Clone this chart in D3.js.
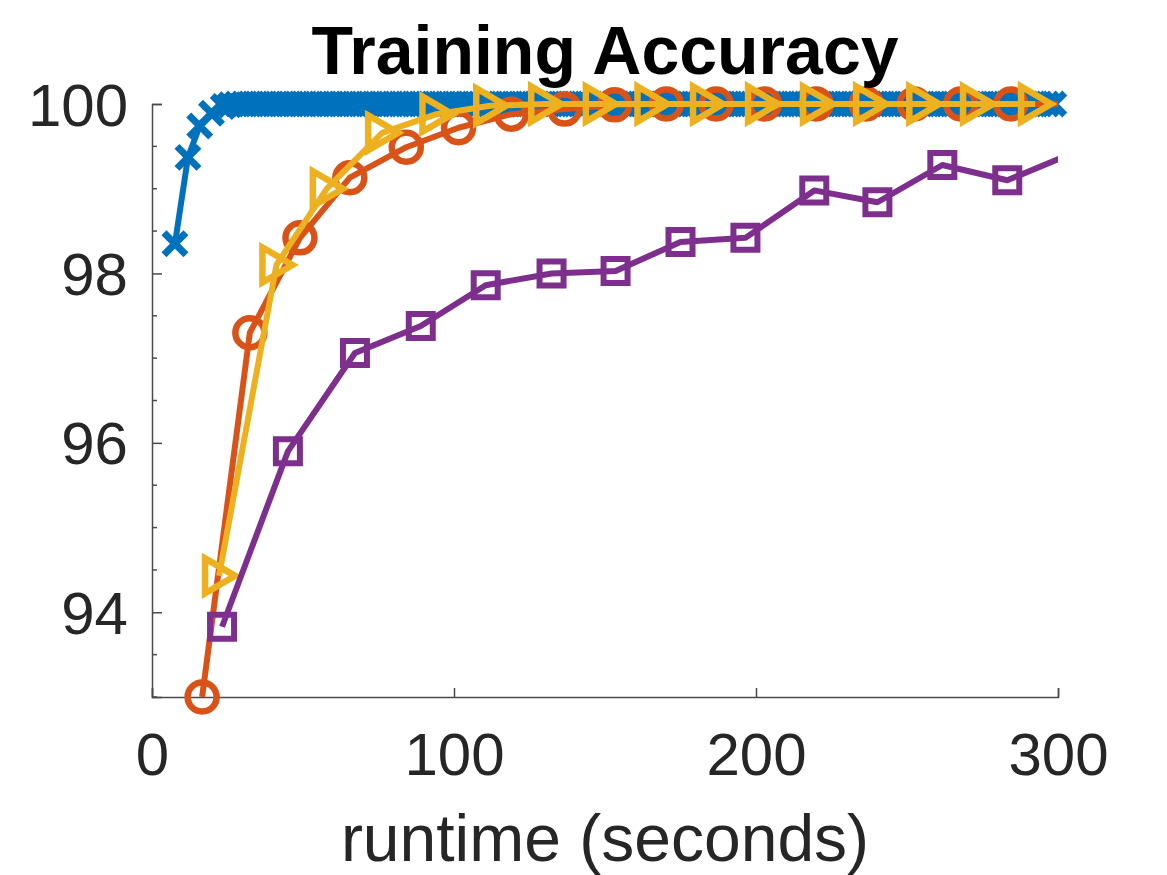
<!DOCTYPE html>
<html>
<head>
<meta charset="utf-8">
<script src="https://cdn.jsdelivr.net/npm/d3@7"></script>
<style>
  body { margin: 0; background: #fff; }
  svg { display: block; }
  text { font-family: "Liberation Sans", Arial, Helvetica, sans-serif; }
</style>
</head>
<body>
<div id="chart"></div>
<script>
// runtime (s) and accuracy values
var blueX = [7.6, 11.9, 15.8, 19.7, 23.6,
  25.8, 28.0, 30.2, 32.4, 34.6, 36.8, 39.0, 41.2, 43.4, 45.6, 47.8, 50.0, 52.2, 54.4, 56.6, 58.8,
  61.0, 63.2, 65.4, 67.6, 69.8, 72.0, 74.2, 76.4, 78.6, 80.8, 83.0, 85.2, 87.4, 89.6, 91.8, 94.0,
  96.2, 98.4, 100.6, 102.8, 105.0, 107.2, 109.4, 111.6, 113.8, 116.0, 118.2, 120.4, 122.6, 124.8,
  127.0, 129.2, 131.4, 133.6, 135.8, 138.0, 140.2, 142.4, 144.6, 146.8, 149.0, 151.2, 153.4, 155.6,
  157.8, 160.0, 162.2, 164.4, 166.6, 168.8, 171.0, 173.2, 175.4, 177.6, 179.8, 182.0, 184.2, 186.4,
  188.6, 190.8, 193.0, 195.2, 197.4, 199.6, 201.8, 204.0, 206.2, 208.4, 210.6, 212.8, 215.0, 217.2,
  219.4, 221.6, 223.8, 226.0, 228.2, 230.4, 232.6, 234.8, 237.0, 239.2, 241.4, 243.6, 245.8, 248.0,
  250.2, 252.4, 254.6, 256.8, 259.0, 261.2, 263.4, 265.6, 267.8, 270.0, 272.2, 274.4, 276.6, 278.8,
  281.0, 283.2, 285.4, 287.6, 289.8, 292.0, 294.2, 296.4, 298.6];
var blueY = [98.35, 99.37, 99.74, 99.89, 99.97, 99.99,
  100, 100, 100, 100, 100, 100, 100, 100, 100, 100, 100, 100, 100, 100, 100, 100, 100, 100, 100, 100,
  100, 100, 100, 100, 100, 100, 100, 100, 100, 100, 100, 100, 100, 100, 100, 100, 100, 100, 100, 100,
  100, 100, 100, 100, 100, 100, 100, 100, 100, 100, 100, 100, 100, 100, 100, 100, 100, 100, 100, 100,
  100, 100, 100, 100, 100, 100, 100, 100, 100, 100, 100, 100, 100, 100, 100, 100, 100, 100, 100, 100,
  100, 100, 100, 100, 100, 100, 100, 100, 100, 100, 100, 100, 100, 100, 100, 100, 100, 100, 100, 100,
  100, 100, 100, 100, 100, 100, 100, 100, 100, 100, 100, 100, 100, 100, 100, 100, 100, 100, 100, 100,
  100, 100, 100, 100];

var orangeX = [16.6, 32.4, 49.0, 65.5, 84.2, 101.5, 119.0, 136.6, 153.2, 170.3, 186.8, 202.8, 219.9,
  236.5, 252.4, 267.8, 284.4, 301.0];
var orangeY = [93.0, 97.3, 98.42, 99.13, 99.49, 99.72, 99.88, 99.94, 99.99, 100, 100, 100, 100,
  100, 100, 100, 100, 100];

var yellowX = [22.2, 41.2, 57.9, 76.2, 94.2, 112.0, 130.2, 148.3, 165.4, 183.8, 202.0, 220.2,
  237.8, 255.4, 273.2, 292.4];
var yellowY = [94.43, 98.1, 99.0, 99.66, 99.88, 99.98, 100, 100, 100, 100, 100, 100,
  100, 100, 100, 100];

var purpleX = [23.2, 45.0, 67.2, 89.0, 110.5, 132.3, 153.5, 175.0, 196.5, 219.3, 240.2, 261.7, 283.2, 305.0];
var purpleY = [93.83, 95.9, 97.06, 97.38, 97.86, 98.0, 98.03, 98.37, 98.42, 98.98, 98.84, 99.28, 99.1, 99.42];

var xTicks = [0, 100, 200, 300];
var yTicks = [94, 96, 98, 100];
var yMinorTicks = [93, 93.5, 94.5, 95, 95.5, 96.5, 97, 97.5, 98.5, 99, 99.5];

var width = 1167;
var height = 875;
var plotLeft = 152, plotRight = 1058, plotTop = 104, plotBottom = 697;

var svg = d3.select('#chart')
    .append('svg')
    .attr('width', width)
    .attr('height', height);

var x = d3.scaleLinear().domain([0, 300]).range([plotLeft, plotRight]);
var y = d3.scaleLinear().domain([93, 100]).range([plotBottom, plotTop]);

svg.append('clipPath')
    .attr('id', 'plotclip')
    .append('rect')
    .attr('x', plotLeft)
    .attr('y', plotTop - 30)
    .attr('width', plotRight - plotLeft)
    .attr('height', plotBottom - plotTop + 60);

// axes (box off, ticks pointing in)
var axisColor = '#4a4a4a';
var labelColor = '#262626';

var xAxis = d3.axisBottom(x).tickValues(xTicks).tickSize(-9).tickFormat(d3.format('d'));
var gx = svg.append('g')
    .attr('transform', 'translate(0,' + plotBottom + ')')
    .call(xAxis);
gx.select('.domain').attr('stroke', axisColor).attr('stroke-width', 1.5);
gx.selectAll('.tick line').attr('stroke', axisColor).attr('stroke-width', 1.5);
gx.selectAll('.tick text')
    .attr('fill', labelColor)
    .attr('font-size', 60)
    .attr('y', 35)
    .attr('dy', '0.71em');

var yAxis = d3.axisLeft(y).tickValues(yTicks).tickSize(-10).tickFormat(d3.format('d'));
var gy = svg.append('g')
    .attr('transform', 'translate(' + plotLeft + ',0)')
    .call(yAxis);
gy.select('.domain').attr('stroke', axisColor).attr('stroke-width', 1.5);
gy.selectAll('.tick line').attr('stroke', axisColor).attr('stroke-width', 1.5);
gy.selectAll('.tick text')
    .attr('fill', labelColor)
    .attr('font-size', 60)
    .attr('x', -24)
    .attr('dy', '0.35em');

svg.append('g')
    .selectAll('line')
    .data(yMinorTicks)
    .enter()
    .append('line')
    .attr('x1', plotLeft)
    .attr('x2', plotLeft + 5)
    .attr('y1', (d) => y(d))
    .attr('y2', (d) => y(d))
    .attr('stroke', axisColor)
    .attr('stroke-width', 1.5);

// series
var series = [
    {name: 'blue', xs: blueX, ys: blueY, color: '#0072BD', marker: 'x', sw: 7},
    {name: 'orange', xs: orangeX, ys: orangeY, color: '#D95319', marker: 'o', sw: 6.5},
    {name: 'yellow', xs: yellowX, ys: yellowY, color: '#EDB120', marker: '>', sw: 6.5},
    {name: 'purple', xs: purpleX, ys: purpleY, color: '#7E2F8E', marker: 's', sw: 6}
];

var markerPath = {
    'x': 'M-11,-11L11,11M-11,11L11,-11',
    'o': 'M14.5,0A14.5,14.5 0 1,1 -14.5,0A14.5,14.5 0 1,1 14.5,0Z',
    '>': 'M-14,-17.5L16,0L-14,17.5Z',
    's': 'M-12,-12L12,-12L12,12L-12,12Z'
};

var line = d3.line()
    .x((d) => x(d[0]))
    .y((d) => y(d[1]));

series.forEach(function(s) {
    var pts = s.xs.map((v, i) => [v, s.ys[i]]);
    var g = svg.append('g').attr('class', s.name);

    g.append('path')
        .datum(pts)
        .attr('clip-path', 'url(#plotclip)')
        .attr('d', line)
        .attr('fill', 'none')
        .attr('stroke', s.color)
        .attr('stroke-width', 6)
        .attr('stroke-linejoin', 'round');

    g.selectAll('path.mk')
        .data(pts.filter((d) => d[0] <= 300))
        .enter()
        .append('path')
        .attr('class', 'mk')
        .attr('transform', (d) => 'translate(' + x(d[0]) + ',' + y(d[1]) + ')')
        .attr('d', markerPath[s.marker])
        .attr('fill', 'none')
        .attr('stroke', s.color)
        .attr('stroke-width', s.sw)
        .attr('stroke-linejoin', 'miter');
});

// title and x label
svg.append('text')
    .attr('x', (plotLeft + plotRight) / 2)
    .attr('y', 74)
    .attr('text-anchor', 'middle')
    .attr('font-size', 68)
    .attr('font-weight', 'bold')
    .attr('fill', '#000')
    .text('Training Accuracy');

svg.append('text')
    .attr('x', (plotLeft + plotRight) / 2)
    .attr('y', 861)
    .attr('text-anchor', 'middle')
    .attr('font-size', 66)
    .attr('fill', labelColor)
    .text('runtime (seconds)');
</script>
</body>
</html>
